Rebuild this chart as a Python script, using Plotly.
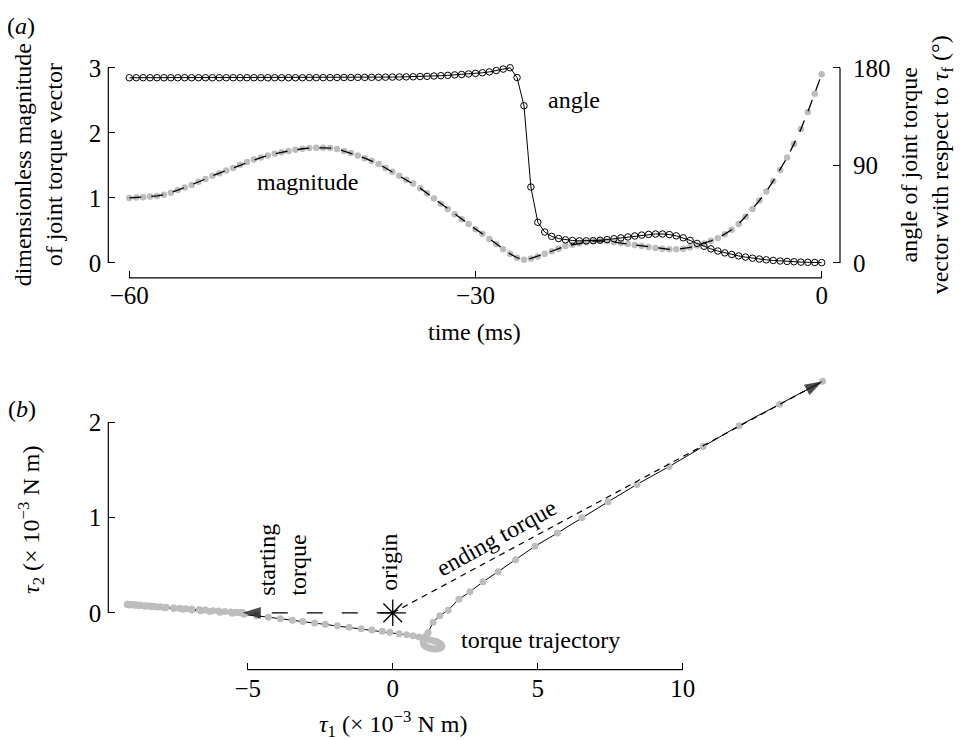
import plotly.graph_objects as go

# The page body has an 8px margin, so the figure fills the visible 956x732 area
W, H = 956, 732
OFF = 8
FONT = "Liberation Serif"

# ---------------- data ----------------
time_ms = [-60.0, -59.4, -58.8, -58.2, -57.6, -57.0, -56.4, -55.8, -55.2, -54.6,
           -54.0, -53.4, -52.8, -52.2, -51.6, -51.0, -50.4, -49.8, -49.2, -48.6,
           -48.0, -47.4, -46.8, -46.2, -45.6, -45.0, -44.4, -43.8, -43.2, -42.6,
           -42.0, -41.4, -40.8, -40.2, -39.6, -39.0, -38.4, -37.8, -37.2, -36.6,
           -36.0, -35.4, -34.8, -34.2, -33.6, -33.0, -32.4, -31.8, -31.2, -30.6,
           -30.0, -29.4, -28.8, -28.2, -27.6, -27.0, -26.4, -25.8, -25.2, -24.6,
           -24.0, -23.4, -22.8, -22.2, -21.6, -21.0, -20.4, -19.8, -19.2, -18.6,
           -18.0, -17.4, -16.8, -16.2, -15.6, -15.0, -14.4, -13.8, -13.2, -12.6,
           -12.0, -11.4, -10.8, -10.2, -9.6, -9.0, -8.4, -7.8, -7.2, -6.6,
           -6.0, -5.4, -4.8, -4.2, -3.6, -3.0, -2.4, -1.8, -1.2, -0.6,
           0.0]

magnitude = [1.00, 1.005, 1.01, 1.02, 1.03, 1.05, 1.08, 1.12, 1.16, 1.20,
             1.25, 1.29, 1.34, 1.38, 1.42, 1.46, 1.51, 1.55, 1.59, 1.62,
             1.65, 1.68, 1.70, 1.72, 1.74, 1.755, 1.765, 1.77, 1.77, 1.765,
             1.75, 1.72, 1.69, 1.65, 1.61, 1.57, 1.52, 1.46, 1.40, 1.34,
             1.28, 1.22, 1.15, 1.07, 0.99, 0.91, 0.83, 0.75, 0.67, 0.60,
             0.52, 0.45, 0.37, 0.29, 0.21, 0.14, 0.08, 0.05, 0.07, 0.10,
             0.14, 0.18, 0.22, 0.26, 0.28, 0.30, 0.32, 0.335, 0.34, 0.335,
             0.32, 0.305, 0.29, 0.275, 0.26, 0.245, 0.23, 0.22, 0.21, 0.21,
             0.22, 0.24, 0.27, 0.30, 0.34, 0.38, 0.44, 0.51, 0.60, 0.71,
             0.83, 0.96, 1.10, 1.26, 1.43, 1.62, 1.83, 2.06, 2.32, 2.60,
             2.90]

angle_deg = [170.8, 170.8, 170.8, 170.8, 170.8, 170.8, 170.8, 170.8, 170.8, 170.8,
             170.8, 170.8, 170.8, 170.8, 170.8, 170.8, 170.8, 170.8, 170.8, 170.8,
             170.8, 170.8, 170.8, 170.8, 170.8, 170.8, 170.9, 170.9, 170.9, 170.9,
             171.0, 171.0, 171.0, 171.1, 171.1, 171.2, 171.2, 171.3, 171.4, 171.5,
             171.6, 171.7, 171.9, 172.1, 172.4, 172.7, 173.0, 173.4, 173.8, 174.3,
             174.8, 175.4, 176.2, 177.4, 178.8, 180.0, 171.0, 145.0, 70.0, 37.5,
             28.5, 24.5, 22.5, 21.3, 20.7, 20.4, 20.4, 20.6, 21.0, 21.6,
             22.3, 23.1, 24.0, 24.9, 25.7, 26.3, 26.7, 26.7, 26.2, 25.0,
             23.2, 20.8, 18.0, 15.4, 13.0, 11.0, 9.3, 7.8, 6.5, 5.4,
             4.4, 3.6, 2.9, 2.3, 1.8, 1.4, 1.1, 0.8, 0.6, 0.4,
             0.3]

tau1 = [-5.17, -5.20, -5.22, -5.27, -5.33, -5.43, -5.58, -5.79, -6.00, -6.20,
        -6.46, -6.67, -6.93, -7.13, -7.34, -7.55, -7.81, -8.01, -8.22, -8.38,
        -8.53, -8.69, -8.79, -8.89, -9.00, -9.07, -9.13, -9.15, -9.15, -9.13,
        -9.05, -8.89, -8.74, -8.53, -8.32, -8.12, -7.86, -7.55, -7.24, -6.93,
        -6.62, -6.31, -5.95, -5.53, -5.12, -4.70, -4.29, -3.88, -3.46, -3.10,
        -2.69, -2.33, -1.91, -1.50, -1.09, -0.72, -0.36, -0.10, 0.22, 0.48,
        0.70, 0.91, 1.11, 1.30, 1.42, 1.52, 1.61, 1.67, 1.69, 1.66,
        1.60, 1.52, 1.44, 1.36, 1.28, 1.20, 1.13, 1.08, 1.05, 1.06,
        1.10, 1.15, 1.22, 1.39, 1.62, 1.91, 2.28, 2.66, 3.11, 3.63,
        4.24, 4.90, 5.68, 6.52, 7.42, 8.42, 9.53, 10.70, 11.94, 13.34,
        14.82]

tau2 = [0.000, 0.001, 0.001, 0.002, 0.004, 0.006, 0.009, 0.014, 0.019, 0.023,
        0.029, 0.034, 0.040, 0.044, 0.049, 0.054, 0.059, 0.064, 0.068, 0.072,
        0.075, 0.079, 0.081, 0.084, 0.086, 0.088, 0.089, 0.090, 0.090, 0.085,
        0.083, 0.079, 0.076, 0.070, 0.065, 0.060, 0.054, 0.046, 0.038, 0.030,
        0.023, 0.015, 0.006, -0.005, -0.015, -0.031, -0.046, -0.062, -0.078, -0.091,
        -0.107, -0.120, -0.136, -0.151, -0.167, -0.181, -0.194, -0.205, -0.220, -0.230,
        -0.240, -0.255, -0.270, -0.285, -0.295, -0.305, -0.320, -0.335, -0.350, -0.365,
        -0.375, -0.380, -0.380, -0.378, -0.372, -0.362, -0.350, -0.335, -0.315, -0.290,
        -0.265, -0.240, -0.206, -0.100, -0.030, 0.028, 0.143, 0.220, 0.325, 0.432,
        0.558, 0.698, 0.838, 0.998, 1.165, 1.348, 1.536, 1.745, 1.965, 2.190,
        2.430]

origin = [0.0, 0.0]

top_x_ticks = [-60, -30, 0]
top_y_ticks = [0, 1, 2, 3]
top_y2_ticks = [0, 90, 180]
bot_x_ticks = [-5, 0, 5, 10]
bot_y_ticks = [0, 1, 2]

# ---------------- layout helpers (window pixel -> paper) ----------------
def PX(x):
    return (x - OFF) / W

def PY(y):
    return 1 - (y - OFF) / H

GRAY = "#bdbdbd"
tickfont = dict(family=FONT, size=25, color="black")

def tfont(size=24):
    return dict(family=FONT, size=size, color="black")

fig = go.Figure()

# ---- panel (a)
fig.add_trace(go.Scatter(x=time_ms, y=magnitude, mode="markers",
                         marker=dict(color=GRAY, size=6.5, line=dict(width=0)),
                         xaxis="x", yaxis="y", showlegend=False, cliponaxis=False))
fig.add_trace(go.Scatter(x=time_ms, y=magnitude, mode="lines",
                         line=dict(color="black", width=1.3, dash="12px,10px"),
                         xaxis="x", yaxis="y", showlegend=False, cliponaxis=False))
fig.add_trace(go.Scatter(x=time_ms, y=angle_deg, mode="lines+markers",
                         line=dict(color="black", width=1),
                         marker=dict(symbol="circle-open", size=6.5, color="black",
                                     line=dict(width=1, color="black")),
                         xaxis="x", yaxis="y2", showlegend=False, cliponaxis=False))

# ---- panel (b)
fig.add_trace(go.Scatter(x=tau1, y=tau2, mode="lines+markers",
                         line=dict(color="black", width=1),
                         marker=dict(color=GRAY, size=7, line=dict(width=0)),
                         xaxis="x3", yaxis="y3", showlegend=False, cliponaxis=False))
# starting torque arrow
fig.add_trace(go.Scatter(x=[origin[0], tau1[0]], y=[origin[1], tau2[0]], mode="lines+markers",
                         line=dict(color="black", width=1.2, dash="16px,19px"),
                         marker=dict(symbol="arrow", angleref="previous", size=[0, 19],
                                     color="black", line=dict(width=0)),
                         xaxis="x3", yaxis="y3", showlegend=False, cliponaxis=False))
# ending torque arrow
fig.add_trace(go.Scatter(x=[origin[0], tau1[-1]], y=[origin[1], tau2[-1]], mode="lines+markers",
                         line=dict(color="black", width=1.2, dash="6px,5px"),
                         marker=dict(symbol="arrow", angleref="previous", size=[0, 19],
                                     color="black", line=dict(width=0)),
                         xaxis="x3", yaxis="y3", showlegend=False, cliponaxis=False))
# origin
fig.add_trace(go.Scatter(x=[origin[0]], y=[origin[1]], mode="markers",
                         marker=dict(symbol="asterisk-open", size=22,
                                     line=dict(width=1.3, color="black"), color="black"),
                         xaxis="x3", yaxis="y3", showlegend=False, cliponaxis=False))

axis_common = dict(ticks="inside", ticklen=7, tickwidth=1.2, tickcolor="black",
                   showline=False, showgrid=False, zeroline=False,
                   tickfont=tickfont, fixedrange=True)

top_xdom = [PX(108.3), PX(840)]
top_ydom = [PY(276), PY(55)]
bot_xdom = [PX(108.3), PX(840)]
bot_ydom = [PY(669.3), PY(370)]

fig.update_layout(
    width=W, height=H,
    margin=dict(l=0, r=0, t=0, b=0),
    paper_bgcolor="white", plot_bgcolor="white",
    showlegend=False,
    xaxis=dict(domain=top_xdom, range=[-61.82, 1.586], tickvals=top_x_ticks,
               anchor="y", ticklabelstandoff=0, **axis_common),
    yaxis=dict(domain=top_ydom, range=[-0.2296, 3.153], tickvals=top_y_ticks,
               anchor="x", ticklabelstandoff=6, **axis_common),
    yaxis2=dict(overlaying="y", side="right", anchor="x", range=[-13.78, 189.18],
                tickvals=top_y2_ticks, ticklabelstandoff=12, **axis_common),
    xaxis3=dict(domain=bot_xdom, range=[-9.807, 15.42], tickvals=bot_x_ticks,
                anchor="y3", ticklabelstandoff=1, **axis_common),
    yaxis3=dict(domain=bot_ydom, range=[-0.596, 2.533], tickvals=bot_y_ticks,
                anchor="x3", ticklabelstandoff=6, **axis_common),
)

spine = dict(color="black", width=1.2)
fig.update_layout(shapes=[
    dict(type="line", xref="x", yref="y domain", x0=top_x_ticks[0], x1=top_x_ticks[-1], y0=0, y1=0, line=spine),
    dict(type="line", xref="x domain", yref="y", x0=0, x1=0, y0=top_y_ticks[0], y1=top_y_ticks[-1], line=spine),
    dict(type="line", xref="x domain", yref="y2", x0=1, x1=1, y0=top_y2_ticks[0], y1=top_y2_ticks[-1], line=spine),
    dict(type="line", xref="x3", yref="y3 domain", x0=bot_x_ticks[0], x1=bot_x_ticks[-1], y0=0, y1=0, line=spine),
    dict(type="line", xref="x3 domain", yref="y3", x0=0, x1=0, y0=bot_y_ticks[0], y1=bot_y_ticks[-1], line=spine),
])

def ann(text, x, y, angle=0, size=24, xanchor="center", yanchor="middle", align="center"):
    return dict(text=text, x=PX(x), y=PY(y), xref="paper", yref="paper",
                showarrow=False, textangle=angle, xanchor=xanchor, yanchor=yanchor,
                align=align, font=tfont(size))

fig.update_layout(annotations=[
    ann("(<i>a</i>)", 21, 8, yanchor="top"),
    ann("(<i>b</i>)", 22, 408),
    ann("dimensionless magnitude<br>of joint torque vector", 38, 163, angle=-90, size=24),
    ann("angle of joint torque<br>vector with respect to <i>τ</i><sub>f</sub> (°)", 926, 163, angle=-90),
    ann("time (ms)", 474, 330),
    ann("angle", 574, 97),
    ann("magnitude", 307, 180),
    ann("<i>τ</i><sub>2</sub> (× 10<sup>−3</sup> N m)", 31, 519, angle=-90),
    ann("<i>τ</i><sub>1</sub> (× 10<sup>−3</sup> N m)", 393, 724),
    ann("starting<br>torque", 283, 559, angle=-90, align="left"),
    ann("origin", 389, 562, angle=-90),
    ann("ending torque", 496, 537, angle=-29),
    ann("torque trajectory", 540, 640),
])

fig.write_html("out.html")
